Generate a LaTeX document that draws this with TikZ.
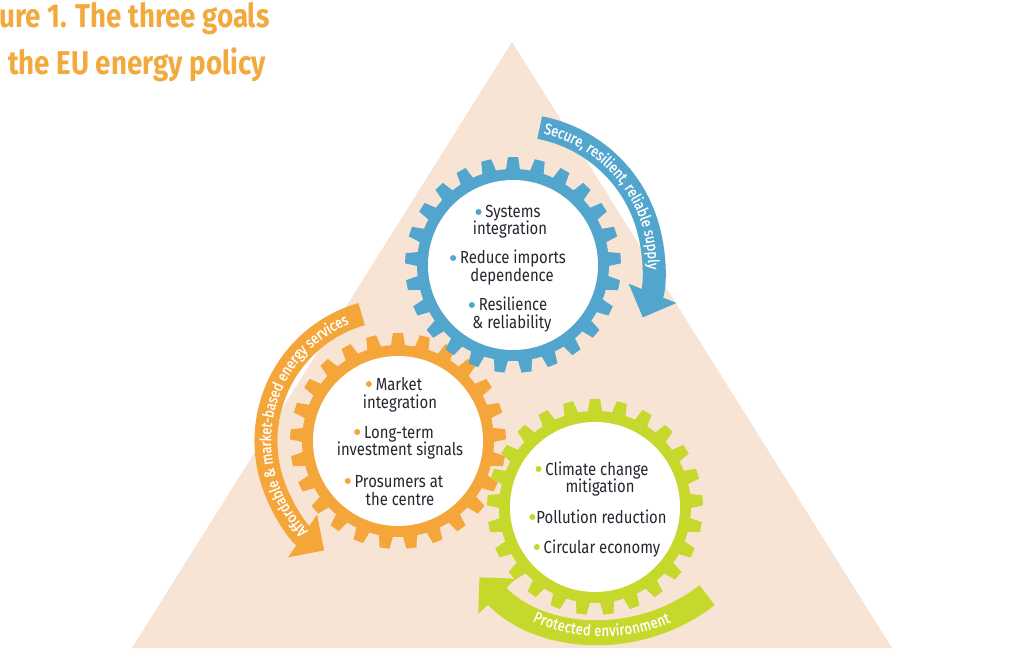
\documentclass[tikz,border=0pt]{standalone}
\usepackage{fontspec}
\setmainfont{Fira Sans}[FakeStretch=0.85]
\newfontfamily\titlefont{Fira Sans}[FakeStretch=0.84]
\newfontfamily\bandfam{Fira Sans}[FakeStretch=0.85, FakeBold=0.6]
\usetikzlibrary{calc,arrows.meta,decorations.text}
\definecolor{peach}{RGB}{248,228,212}
\definecolor{gblue}{RGB}{82,166,206}
\definecolor{gorange}{RGB}{245,166,58}
\definecolor{ggreen}{RGB}{198,216,44}
\definecolor{ttl}{RGB}{242,170,62}
\definecolor{txt}{RGB}{38,38,48}
\newcommand{\bandfont}{\bandfam\fontsize{15.5}{15.5}\selectfont}
\newcommand{\bul}[1]{\tikz[baseline=0pt]\fill[#1] (0pt,6pt) circle[radius=3pt];}
\newcommand{\mkgear}[2]{%
  \begin{scope}[shift={(#1)}]
    \fill[#2] (0,0) circle[radius=96];
    \foreach \i in {0,...,24}{%
      \pgfmathsetmacro{\a}{90+14.4*\i}
      \fill[#2] (\a-4.3:95) -- (\a-2.7:108) -- (\a+2.7:108) -- (\a+4.3:95) -- cycle;}
    \fill[white] (0,0) circle[radius=85];
  \end{scope}}
\tikzset{
  band/.style={line width=23pt, -{Triangle[width=50pt,length=26pt]}},
  item/.style={anchor=base, text=txt, inner sep=0pt, font=\fontsize{17.5}{17.5}\selectfont},
  bandtext/.style={decorate, decoration={text along path, text={#1}, text color=white, raise=-5pt}}
}
\begin{document}
\begin{tikzpicture}[x=1pt,y=1pt]
\useasboundingbox (0,0) rectangle (1024,659);
\fill[white] (0,0) rectangle (1024,659);
% triangle
\fill[peach] (132,11) -- (512,617) -- (892,11) -- cycle;
% centres
\coordinate (B) at (513,394);
\coordinate (O) at (398,218);
\coordinate (G) at (595,152);
\coordinate (Ga) at (603,197);
% gears
\mkgear{O}{gorange}
\mkgear{B}{gblue}
\mkgear{G}{ggreen}
% bands
\draw[band, gblue] ($(B)+(79:140)$) arc[start angle=79, end angle=-22, radius=140];
\draw[band, gorange] ($(O)+(106:132)$) arc[start angle=106, end angle=236, radius=132];
\draw[band, ggreen, line width=25pt] ($(Ga)+(-52:169)$) arc[start angle=-52, end angle=-137, radius=169];
% band texts
\path[bandtext={|\bandfont|Secure, resilient, reliable supply}] ($(B)+(77:140)$) arc[start angle=77, end angle=-40, radius=140];
\path[bandtext={|\bandfont|Affordable {\&} market-based energy services}] ($(O)+(225:132)$) arc[start angle=225, end angle=60, radius=132];
\path[bandtext={|\bandfont|Protected environment}] ($(Ga)+(-114:169)$) arc[start angle=-114, end angle=-30, radius=169];
% title
\node[anchor=base west, text=ttl, inner sep=0pt, font=\titlefont\bfseries\fontsize{33}{33}\selectfont] (title1) at (-1,631) {ure 1. The three goals};
\node[anchor=base west, text=ttl, inner sep=0pt, font=\titlefont\bfseries\fontsize{33}{33}\selectfont] (title2) at (8,584) {the EU energy policy};
% blue gear text
\node[item] (b1) at (508,441) {\bul{gblue} Systems};
\node[item] (b2) at (510,424) {integration};
\node[item] (b3) at (508,395) {\bul{gblue} Reduce imports};
\node[item] (b4) at (512,377) {dependence};
\node[item] (b5) at (508,348) {\bul{gblue} Resilience};
\node[item] (b6) at (512,330) {\& reliability};
% orange gear text
\node[item] (o1) at (394,269) {\bul{gorange} Market};
\node[item] (o2) at (400,251) {integration};
\node[item] (o3) at (394,221) {\bul{gorange} Long-term};
\node[item] (o4) at (400,204) {investment signals};
\node[item] (o5) at (394,172) {\bul{gorange} Prosumers at};
\node[item] (o6) at (400,154) {the centre};
% green gear text
\node[item] (g1) at (592,184) {\bul{ggreen} Climate change};
\node[item] (g2) at (600,167) {mitigation};
\node[item] (g3) at (598,136) {\bul{ggreen}\hspace{1pt}Pollution reduction};
\node[item] (g4) at (597,106) {\bul{ggreen} Circular economy};
\end{tikzpicture}
\end{document}
